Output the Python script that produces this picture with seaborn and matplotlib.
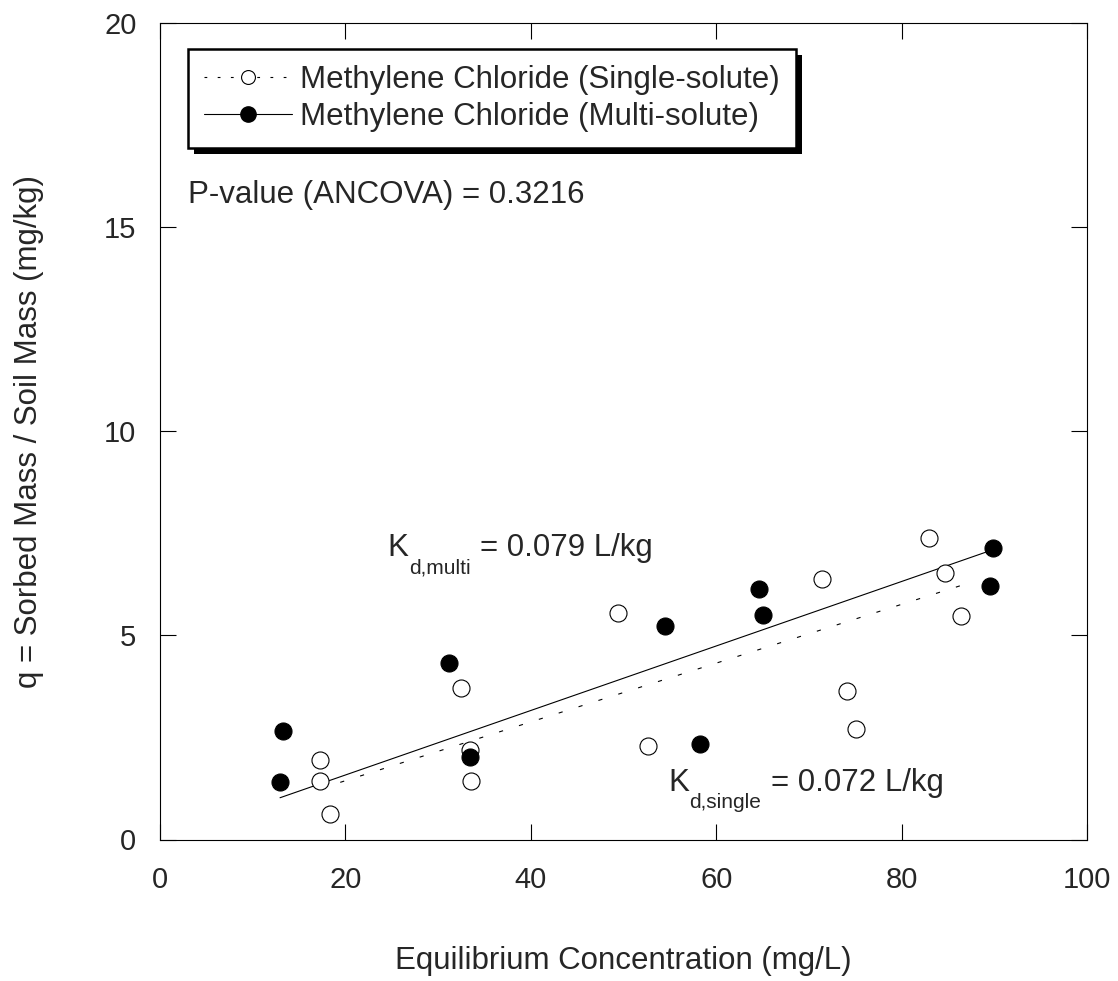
import matplotlib
matplotlib.use("Agg")
import matplotlib.pyplot as plt
import matplotlib.transforms as mtransforms
from matplotlib.lines import Line2D
from matplotlib.patches import Rectangle
import numpy as np
import pandas as pd
import seaborn as sns

# ---- data ----
single_x = [17.3, 17.3, 18.3, 32.5, 33.4, 33.55, 49.45, 52.6, 71.45, 74.1, 75.1, 83.0, 84.7, 86.4]
single_q = [1.95, 1.43, 0.63, 3.72, 2.19, 1.43, 5.56, 2.29, 6.38, 3.64, 2.70, 7.39, 6.52, 5.48]
multi_x = [13.3, 12.95, 31.15, 33.4, 54.5, 58.3, 64.65, 65.1, 89.9, 89.55]
multi_q = [2.65, 1.40, 4.32, 2.02, 5.24, 2.33, 6.13, 5.49, 7.13, 6.22]
kd_single = 0.072
kd_multi = 0.079
label_single = "Methylene Chloride (Single-solute)"
label_multi = "Methylene Chloride (Multi-solute)"
x_ticks = [0, 20, 40, 60, 80, 100]
y_ticks = [0, 5, 10, 15, 20]
pvalue_text = "P-value (ANCOVA) = 0.3216"

sns.set_style("ticks")
plt.rcParams['font.family'] = ['Liberation Sans', 'DejaVu Sans']
plt.rcParams['lines.scale_dashes'] = False

FS = 22.5      # main text size
FS_SUB = 15    # subscript size
FS_TICK = 21

W, H = 1118, 981
fig = plt.figure(figsize=(W / 100, H / 100), dpi=100)
ax = fig.add_axes([160 / W, 1 - 839.5 / H, 927 / W, 816.5 / H])

df_s = pd.DataFrame({"x": single_x, "q": single_q})
df_m = pd.DataFrame({"x": multi_x, "q": multi_q})

# fitted linear isotherms q = Kd * C over each series' range
fs_x = np.array([min(single_x), max(single_x)])
fm_x = np.array([min(multi_x), max(multi_x)])
fit_s = pd.DataFrame({"x": fs_x, "q": kd_single * fs_x})
fit_m = pd.DataFrame({"x": fm_x, "q": kd_multi * fm_x})

sns.lineplot(data=fit_s, x="x", y="q", ax=ax, color="black", lw=0.8,
             linestyle=(0, (3, 12)), zorder=2)
sns.lineplot(data=fit_m, x="x", y="q", ax=ax, color="black", lw=0.8, zorder=2)

sns.scatterplot(data=df_s, x="x", y="q", ax=ax, s=150, facecolor="white",
                edgecolor="black", linewidth=0.8, zorder=3)
sns.scatterplot(data=df_m, x="x", y="q", ax=ax, s=150, color="black",
                edgecolor="black", linewidth=0.8, zorder=4)

ax.set_xlim(0, 100)
ax.set_ylim(0, 20)
ax.set_xticks(x_ticks)
ax.set_yticks(y_ticks)
ax.tick_params(axis="both", which="major", direction="in", length=11.5,
               width=0.8, labelsize=FS_TICK, top=True, right=True, color="black")
ax.tick_params(axis="x", pad=19)
ax.tick_params(axis="y", pad=17)
for sp in ax.spines.values():
    sp.set_linewidth(0.8)
    sp.set_color("black")
    sp.set_visible(True)

ax.set_xlabel("Equilibrium Concentration (mg/L)", fontsize=FS)
ax.set_ylabel("q = Sorbed Mass / Soil Mass (mg/kg)", fontsize=FS)
ax.xaxis.set_label_coords(0.5, -0.131)
ax.yaxis.set_label_coords(-0.125, 0.5)

ax.text(3.0, 15.6, pvalue_text, fontsize=FS, ha="left", va="baseline")


def kd_label(x, y, sub, rest):
    k = ax.text(x, y, "K", fontsize=FS, ha="left", va="baseline")
    s = ax.annotate(sub, xy=(1, y), xycoords=(k, "data"), xytext=(0.5, -12.5),
                    textcoords="offset points", fontsize=FS_SUB,
                    ha="left", va="baseline")
    ax.annotate(rest, xy=(1, y), xycoords=(s, "data"), xytext=(7, 0),
                textcoords="offset points", fontsize=FS,
                ha="left", va="baseline")


kd_label(24.5, 6.94, "d,multi", "= %.3f L/kg" % kd_multi)
kd_label(54.8, 1.19, "d,single", "= %.3f L/kg" % kd_single)

h_s = Line2D([], [], color="black", lw=0.8, linestyle=(0, (2, 7.5)),
             marker="o", markersize=10, markerfacecolor="white",
             markeredgecolor="black", markeredgewidth=0.8)
h_m = Line2D([], [], color="black", lw=0.8, linestyle="-",
             marker="o", markersize=11, markerfacecolor="black",
             markeredgecolor="black")
leg = ax.legend([h_s, h_m], [label_single, label_multi], loc="upper left",
                bbox_to_anchor=(188 / W, 1 - 49 / H), bbox_transform=fig.transFigure,
                borderaxespad=0, fontsize=FS, frameon=True, fancybox=False,
                framealpha=1, edgecolor="black", handlelength=2.8,
                handletextpad=0.25, borderpad=0.52, labelspacing=0.2,
                numpoints=1)
leg.get_frame().set_linewidth(1.8)
leg.set_zorder(10)

fig.canvas.draw()
bb = leg.get_window_extent()
shadow = Rectangle((bb.x0 + 6, bb.y0 - 6), bb.width, bb.height,
                   transform=mtransforms.IdentityTransform(),
                   facecolor="black", edgecolor="none", zorder=9.5, clip_on=False)
ax.add_artist(shadow)

fig.savefig("out.png", dpi=100)
